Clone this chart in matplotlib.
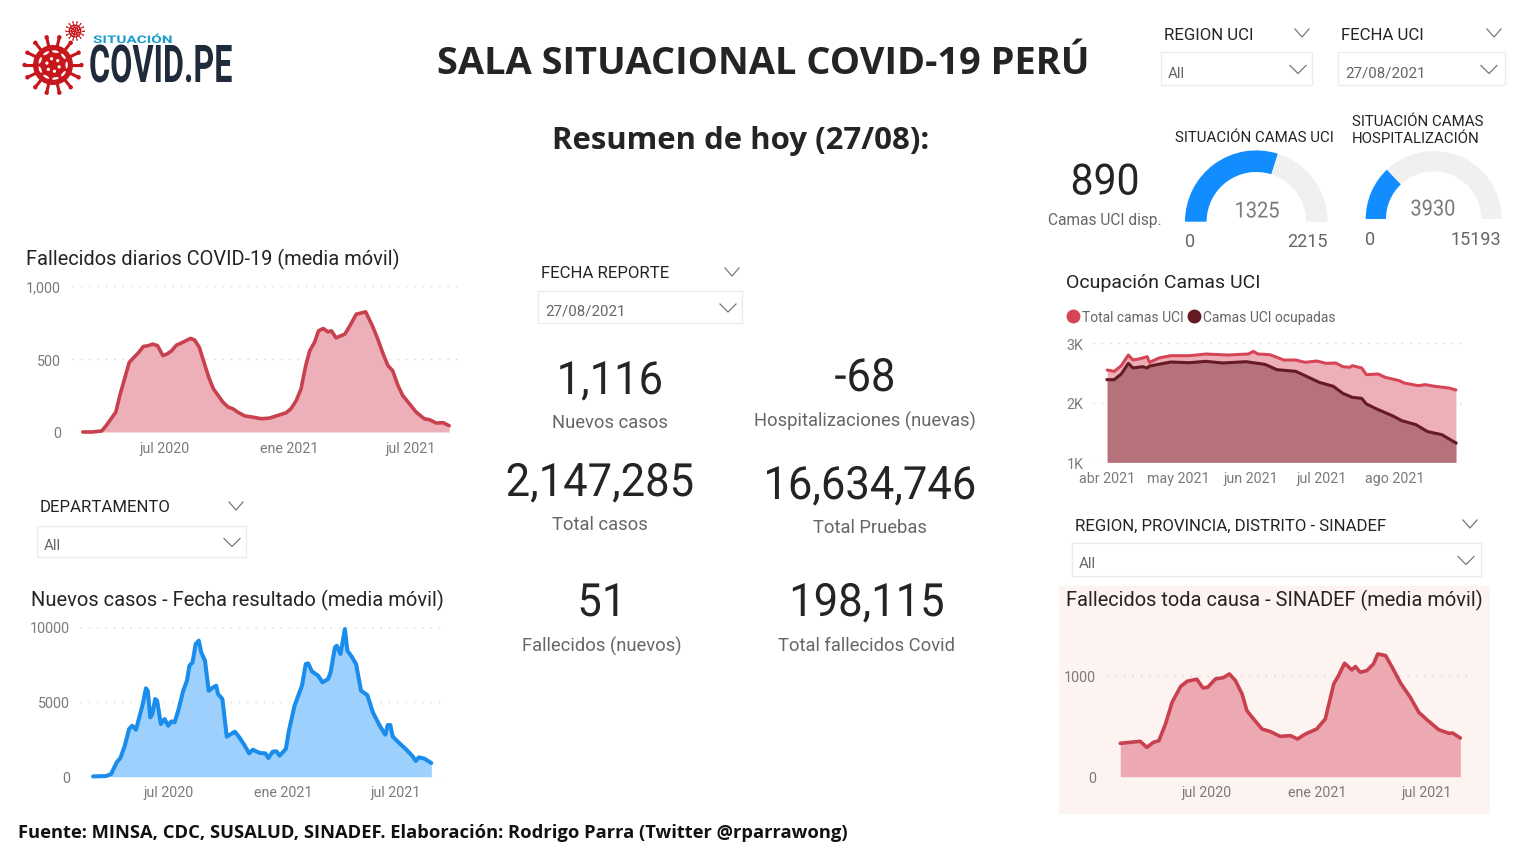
# -*- coding: utf-8 -*-
import numpy as np
import matplotlib
matplotlib.use('Agg')
import matplotlib.pyplot as plt
from matplotlib.lines import Line2D
from matplotlib.patches import Circle, Ellipse, Rectangle
from matplotlib.patheffects import AbstractPathEffect
from matplotlib.transforms import Affine2D

W, H = 1514, 854
plt.rcParams['font.family'] = ['Roboto', 'DejaVu Sans']

# Fallecidos diarios COVID-19 (dias desde 2020-03-01)
fall_dias = [0, 14, 28, 35, 42, 49, 55, 62, 69, 76, 83, 90, 97, 104, 111, 119, 125, 132, 139, 146, 153, 160, 166, 173,
             180, 187, 194, 201, 208, 216, 223, 230, 240, 252, 265, 277, 290, 302, 309, 317, 324, 331, 337, 344, 350,
             357, 364, 369, 376, 389, 396, 406, 420, 430, 438, 446, 453, 460, 468, 475, 485, 495, 507, 515, 525, 535, 544]
fall_vals = [0, 0, 7, 45, 91, 136, 250, 364, 477, 511, 545, 586, 591, 602, 591, 523, 534, 557, 595, 609, 625, 641, 630, 580,
             477, 375, 295, 250, 205, 170, 159, 136, 111, 102, 91, 95, 114, 132, 159, 216, 295, 455, 557, 614, 693,
             709, 686, 693, 645, 670, 723, 807, 823, 727, 636, 534, 455, 420, 318, 250, 193, 136, 91, 84, 61, 64, 43]

# Nuevos casos (dias desde 2020-03-01)
casos_dias = [0, 21, 29, 38, 44, 51, 58, 63, 69, 75, 80, 85, 88, 92, 95, 100, 103, 109, 115, 121, 126, 131, 137, 145, 151,
              155, 160, 165, 170, 174, 180, 186, 193, 198, 201, 208, 215, 228, 236, 244, 251, 257, 268, 277, 282, 289, 295,
              300, 310, 315, 324, 330, 336, 342, 346, 352, 362, 369, 378, 382, 389, 392, 398, 405, 409, 415, 423, 431, 441,
              450, 461, 470, 474, 478, 482, 493, 504, 514, 519, 524, 533, 544]
casos_vals = [20, 45, 180, 955, 1245, 2065, 3180, 3400, 3130, 4065, 4845, 5890, 5730, 3955, 4135, 5180, 5065, 3510, 3845, 3400, 3690, 3620, 4400, 5730, 6400,
              7400, 7620, 8845, 9065, 8290, 7730, 5730, 5955, 6065, 5510, 5180, 2670, 3000, 2580, 2065, 1555, 1800, 1580, 1555, 1245, 1670, 1690,
              1400, 1845, 3065, 4730, 5400, 6065, 7510, 7555, 7020, 6730, 6290, 6510, 6955, 8620, 8730, 8180, 9845, 8400, 8065, 7510, 5730, 5445,
              4290, 3400, 2800, 3445, 3445, 2670, 2220, 1800, 1355, 1045, 1290, 1200, 910]

# Camas UCI (dias desde 2021-04-01)
total_dias = [0, 3, 6, 9, 11, 14, 17, 18, 22, 27, 35, 42, 51, 60, 62, 64, 69, 75, 80, 84, 89, 93, 97, 100, 103, 104, 108,
              110, 115, 118, 124, 126, 132, 135, 139, 145, 148]
total_vals = [2551, 2529, 2624, 2803, 2719, 2742, 2775, 2680, 2753, 2792, 2792, 2820, 2803, 2820, 2865, 2820, 2809, 2719, 2719, 2680, 2702, 2663, 2669, 2607, 2596, 2624, 2585,
              2473, 2484, 2428, 2372, 2333, 2288, 2305, 2277, 2249, 2215]
ocup_dias = [0, 3, 6, 9, 11, 15, 17, 18, 24, 27, 35, 42, 49, 59, 67, 72, 80, 84, 90, 96, 100, 104, 108, 110, 115, 121, 125, 131, 136, 142, 148]
ocup_vals = [2389, 2389, 2484, 2663, 2585, 2607, 2585, 2618, 2663, 2686, 2674, 2697, 2669, 2691, 2646, 2557, 2529, 2456, 2344, 2277, 2159, 2092, 2075, 1980, 1885, 1784, 1700, 1633, 1515, 1465, 1325]

# Fallecidos toda causa - SINADEF (dias desde 2020-02-09)
sina_dias = [0, 17, 33, 44, 55, 64, 75, 86, 100, 111, 127, 137, 145, 158, 171, 181, 191, 202, 210, 221, 235, 249, 265, 282,
             294, 307, 326, 340, 354, 362, 372, 384, 390, 398, 409, 420, 427, 440, 451, 465, 481, 495, 509, 528, 545, 551, 564]
sina_vals = [330, 340, 350, 290, 340, 356, 521, 736, 891, 944, 964, 878, 884, 967, 980, 1016, 950, 818, 653, 571, 472, 446, 399, 406,
             373, 422, 472, 571, 917, 1000, 1122, 1056, 1089, 1033, 1049, 1115, 1214, 1198, 1082, 924, 785, 637, 561, 465, 429, 432, 383]

# medidores: valor y maximo
gauge_uci = [1325, 2215]
gauge_hosp = [3930, 15193]

ticks_anual = ['2020-07-01', '2021-01-01', '2021-07-01']
labels_anual = ['jul 2020', 'ene 2021', 'jul 2021']
ticks_uci = ['2021-04-01', '2021-05-01', '2021-06-01', '2021-07-01', '2021-08-01']
labels_uci = ['abr 2021', 'may 2021', 'jun 2021', 'jul 2021', 'ago 2021']

DARK = '#252423'
GRAY = '#666666'
TICK = '#7a7a7a'
RED = '#C9404F'
RED_FILL = '#EEB0B8'
BLUE = '#1A8CEB'
BLUE_FILL = '#9DD0FC'
BOLD_FONT = ['Open Sans', 'DejaVu Sans']


class Ancho(AbstractPathEffect):
    # estrecha o ensancha el texto, no hay fuente condensada instalada
    def __init__(self, sx, centro=True):
        super().__init__()
        self.sx = sx
        self.centro = centro

    def draw_path(self, renderer, gc, tpath, affine, rgbFace=None):
        c = 0
        if self.centro:
            ext = tpath.get_extents()
            c = (ext.x0 + ext.x1) / 2
        t = Affine2D().translate(-c, 0).scale(self.sx, 1).translate(c, 0)
        renderer.draw_path(gc, tpath, t + affine, rgbFace)


def fechas(inicio, dias):
    return np.datetime64(inicio) + np.array(dias).astype('timedelta64[D]')


def px_axes(l, t, r, b, **kw):
    ax = fig.add_axes([l / W, 1 - b / H, (r - l) / W, (b - t) / H], **kw)
    ax.patch.set_alpha(0)
    return ax


def txt(x, y, s, sx=None, **kw):
    # el texto centrado de Roboto queda 2 px alto
    kw.setdefault('va', 'center')
    t = back.text(x, y + 2, s, **kw)
    if sx is not None:
        t.set_path_effects([Ancho(sx, kw.get('ha') == 'center')])
    return t


def estilo(ax, yticks, ylabels, xticks, xlabels, pad):
    for s in ax.spines.values():
        s.set_visible(False)
    ax.set_yticks(yticks)
    ax.set_yticklabels(ylabels)
    ax.set_xticks(np.array(xticks, dtype='datetime64[D]'))
    ax.set_xticklabels(xlabels)
    ax.tick_params(axis='y', length=0, pad=pad, labelsize=10.3, labelcolor=TICK)
    ax.tick_params(axis='x', length=0, pad=6.3, labelsize=10.3, labelcolor=TICK)
    ax.grid(axis='y', color='#d4d4d4', linestyle=(0, (1, 5)), linewidth=1)
    ax.grid(axis='x', visible=False)
    ax.set_axisbelow(True)


def area(ax, x, y, color, fill, base=0, lw=2.6):
    ax.fill_between(x, y, base, color=fill, linewidth=0)
    ax.plot(x, y, color=color, linewidth=lw, clip_on=False, solid_joinstyle='round', solid_capstyle='round')


def chevron(x, y, w=7, h=4, color='#777777'):
    back.plot([x - w, x, x + w], [y - h, y + h, y - h], color=color, linewidth=0.9)


def slicer(titulo, tx, ty, tchev, l, t, r, b, valor, vchev):
    txt(tx, ty, titulo, fontsize=12.1, color=DARK, ha='left')
    chevron(tchev, ty + 1)
    back.add_patch(Rectangle((l, t), r - l, b - t, facecolor='white', edgecolor='#ececec', linewidth=1))
    txt(l + 7, (t + b) / 2 + 2, valor, fontsize=10.8, color=GRAY, ha='left')
    chevron(vchev, (t + b) / 2 + 1, w=8, h=4)


def card(cx, cy, valor, ly, etiqueta, size=33):
    txt(cx, cy + 2, valor, sx=0.95, fontsize=size, color=DARK, ha='center')
    txt(cx, ly, etiqueta, fontsize=13.2, color=GRAY, ha='center')


def gauge(cx, cy, r, inner, valores):
    ax = px_axes(cx - r, cy - r, cx + r, cy + r)
    val, maximo = valores
    ax.pie([val, maximo - val, maximo], colors=['#118DFF', '#F0F0F0', 'none'], startangle=180, counterclock=False,
           radius=1, wedgeprops={'width': 1 - inner / r, 'linewidth': 0})
    ax.set_xlim(-1, 1)
    ax.set_ylim(-1, 1)


def virus(cx, cy, r, color='#C8161D'):
    n = 14
    for a in np.linspace(0, 2 * np.pi, n, endpoint=False):
        back.plot([cx + r * np.cos(a), cx + 1.4 * r * np.cos(a)], [cy + r * np.sin(a), cy + 1.4 * r * np.sin(a)],
                  color=color, linewidth=r / 9)
        back.add_patch(Circle((cx + 1.42 * r * np.cos(a), cy + 1.42 * r * np.sin(a)), r * 0.11, color=color, linewidth=0))
    back.add_patch(Circle((cx, cy), r, color=color, linewidth=0))
    for a in np.linspace(0, 2 * np.pi, 9, endpoint=False):
        back.add_patch(Ellipse((cx + 0.68 * r * np.cos(a), cy + 0.68 * r * np.sin(a)), r * 0.34, r * 0.12,
                               angle=np.degrees(a) + 90, color='white', linewidth=0))
    for a in np.linspace(0.3, 2 * np.pi + 0.3, 6, endpoint=False):
        back.add_patch(Circle((cx + 0.32 * r * np.cos(a), cy + 0.32 * r * np.sin(a)), r * 0.08, color='white', linewidth=0))


fig = plt.figure(figsize=(W / 100, H / 100), dpi=100, facecolor='white')

# capa de fondo en pixeles para textos y slicers
back = fig.add_axes([0, 0, 1, 1])
back.set_xlim(0, W)
back.set_ylim(H, 0)
back.axis('off')

back.add_patch(Rectangle((1059, 587), 431, 228, facecolor='#FDF3F0', edgecolor='none'))

# logo
virus(53, 66, 20)
virus(75, 32, 6.5)
txt(93, 39, 'SITUACIÓN', sx=1.45, fontsize=7.6, color='#1D9BD1', fontweight='bold', ha='left')
txt(89, 67, 'COVID.PE', sx=0.62, fontsize=37.5, color='#1F2A3A', fontweight='bold', ha='left')

# titulos
txt(763, 62, 'SALA SITUACIONAL COVID-19 PERÚ', fontsize=27.4, fontweight='bold', color=DARK, ha='center', family=BOLD_FONT)
txt(741, 139, 'Resumen de hoy (27/08):', fontsize=22.4, fontweight='bold', color=DARK, ha='center', family=BOLD_FONT)
txt(18, 831, 'Fuente: MINSA, CDC, SUSALUD, SINADEF. Elaboración: Rodrigo Parra (Twitter @rparrawong)', fontsize=13.2,
    fontweight='bold', color='#111111', ha='left', family=BOLD_FONT)

# slicers
slicer('REGION UCI', 1164, 33, 1302, 1161, 53, 1312, 86, 'All', 1298)
slicer('FECHA UCI', 1341, 33, 1494, 1338, 53, 1505, 86, '27/08/2021', 1489)
slicer('FECHA REPORTE', 541, 272, 732, 538, 292, 742, 324, '27/08/2021', 728)
slicer('DEPARTAMENTO', 40, 506, 236, 37, 527, 246, 558, 'All', 232)
slicer('REGION, PROVINCIA, DISTRITO - SINADEF', 1075, 524, 1470, 1072, 544, 1481, 577, 'All', 1466)

# tarjetas
card(610, 378, '1,116', 421, 'Nuevos casos')
card(865, 375, '-68', 419, 'Hospitalizaciones (nuevas)')
card(600, 480, '2,147,285', 523, 'Total casos')
card(870, 483, '16,634,746', 526, 'Total Pruebas')
card(602, 600, '51', 644, 'Fallecidos (nuevos)')
card(867, 600, '198,115', 644, 'Total fallecidos Covid')
txt(1105, 182, '890', sx=0.95, fontsize=31, color=DARK, ha='center')
txt(1105, 219, 'Camas UCI disp.', fontsize=11.2, color=GRAY, ha='center')

# medidores
gauge(1256.3, 222.7, 71.3, 49.7, gauge_uci)
gauge(1433.7, 220, 68, 47.7, gauge_hosp)
txt(1254, 136, 'SITUACIÓN CAMAS UCI', fontsize=10.85, color=DARK, ha='center')
txt(1352, 120, 'SITUACIÓN CAMAS', fontsize=10.85, color=DARK, ha='left')
txt(1352, 137, 'HOSPITALIZACIÓN', fontsize=10.85, color=DARK, ha='left')
txt(1257, 211, str(gauge_uci[0]), sx=0.9, fontsize=16, color=TICK, ha='center')
txt(1190, 240, '0', fontsize=13, color=GRAY, ha='center')
txt(1307, 240, str(gauge_uci[1]), fontsize=13, color=GRAY, ha='center')
txt(1433, 209, str(gauge_hosp[0]), sx=0.9, fontsize=16, color=TICK, ha='center')
txt(1370, 238, '0', fontsize=13, color=GRAY, ha='center')
txt(1476, 238, str(gauge_hosp[1]), fontsize=13, color=GRAY, ha='center')

# titulos de graficos
txt(26, 257, 'Fallecidos diarios COVID-19 (media móvil)', fontsize=14.4, color=DARK, ha='left')
txt(31, 598, 'Nuevos casos - Fecha resultado (media móvil)', fontsize=14.5, color=DARK, ha='left')
txt(1066, 281, 'Ocupación Camas UCI', fontsize=14, color=DARK, ha='left')
txt(1066, 598, 'Fallecidos toda causa - SINADEF (media móvil)', fontsize=14.4, color=DARK, ha='left')

# Fallecidos diarios
ax1 = px_axes(72, 287, 462, 433)
area(ax1, fechas('2020-03-01', fall_dias), fall_vals, RED, RED_FILL)
ax1.set_xlim(np.datetime64('2020-02-14'), np.datetime64('2021-09-15'))
ax1.set_ylim(0, 1000)
estilo(ax1, [0, 500, 1000], ['0', '500', '1,000'], ticks_anual, labels_anual, 8)

# Nuevos casos
ax2 = px_axes(80, 627.7, 445, 777.7)
area(ax2, fechas('2020-03-01', casos_dias), casos_vals, BLUE, BLUE_FILL, lw=2.9)
ax2.set_xlim(np.datetime64('2020-02-09'), np.datetime64('2021-09-18'))
ax2.set_ylim(0, 10000)
estilo(ax2, [0, 5000, 10000], ['0', '5000', '10000'], ticks_anual, labels_anual, 7)

# Ocupacion UCI
ax3 = px_axes(1093, 344.3, 1463, 463.3)
area(ax3, fechas('2021-04-01', total_dias), total_vals, '#D64556', RED_FILL, base=1000, lw=2.2)
ax3.fill_between(fechas('2021-04-01', ocup_dias), ocup_vals, 1000, color='#B5727A', linewidth=0)
ax3.plot(fechas('2021-04-01', ocup_dias), ocup_vals, color='#651A24', linewidth=2.2, clip_on=False)
ax3.set_xlim(np.datetime64('2021-03-26'), np.datetime64('2021-08-30'))
ax3.set_ylim(1000, 3000)
estilo(ax3, [1000, 2000, 3000], ['1K', '2K', '3K'], ticks_uci, labels_uci, 7)
handles = [Line2D([], [], linestyle='', marker='o', markersize=9, color='#D64556'),
           Line2D([], [], linestyle='', marker='o', markersize=9, color='#651A24')]
ax3.legend(handles, ['Total camas UCI', 'Camas UCI ocupadas'], ncol=2, frameon=False, fontsize=10, labelcolor=GRAY,
           loc='lower left', bbox_to_anchor=(-0.074, 1.16), borderaxespad=0, borderpad=0, handletextpad=0.05,
           columnspacing=0.25, handlelength=1.1)

# SINADEF
ax4 = px_axes(1107, 626, 1470, 777.7)
area(ax4, fechas('2020-02-09', sina_dias), sina_vals, RED, '#EDA9B1')
ax4.set_xlim(np.datetime64('2020-01-18'), np.datetime64('2021-09-11'))
ax4.set_ylim(0, 1500)
estilo(ax4, [0, 1000], ['0', '1000'], ticks_anual, labels_anual, 8)

fig.savefig('out.png', dpi=100)
